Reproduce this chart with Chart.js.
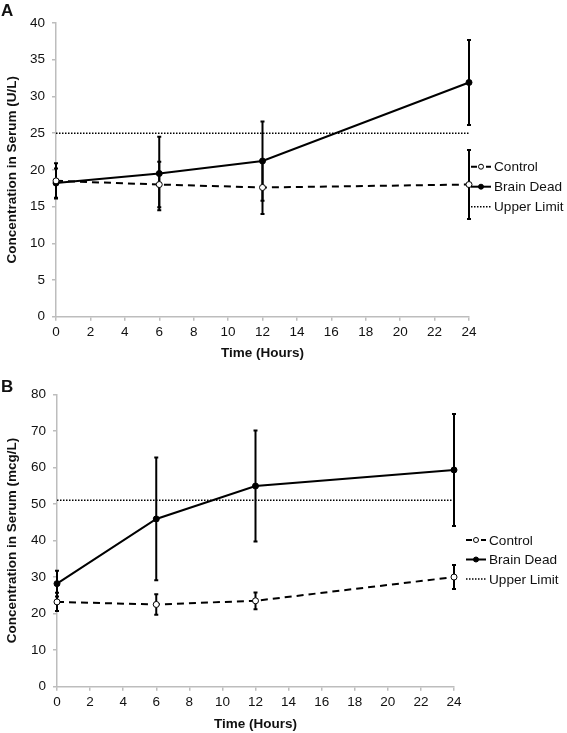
<!DOCTYPE html>
<html>
<head>
<meta charset="utf-8">
<script src="https://cdn.jsdelivr.net/npm/chart.js@4.4.0/dist/chart.umd.min.js"></script>
<style>
    body { margin: 0; background: #fff; }
    #wrap { position: relative; width: 567px; height: 733px; font-family: "Liberation Sans", Arial, sans-serif; }
    .panel { position: absolute; left: 0; width: 567px; }
    .tag { position: absolute; left: 1px; font-weight: bold; font-size: 17px; color: #111; }
</style>
</head>
<body>
<div id="wrap">
    <div class="panel" style="top:0;height:362px"><canvas id="chartA" width="567" height="362"></canvas></div>
    <div class="panel" style="top:362px;height:371px"><canvas id="chartB" width="567" height="371"></canvas></div>
    <div class="tag" style="top:1px">A</div>
    <div class="tag" style="top:377px">B</div>
</div>
<script>
// Datos
const hours = [0, 6, 12, 24];
const xTicks = [0, 2, 4, 6, 8, 10, 12, 14, 16, 18, 20, 22, 24];

// Panel A (U/L)
const aControl = [18.5, 18.0, 17.6, 18.0];
const aControlErr = [2.4, 3.1, 3.6, 4.7];
const aBrainDead = [18.2, 19.5, 21.2, 31.9];
const aBrainDeadErr = [2.0, 5.0, 5.4, 5.8];
const aUpperLimit = 25;

// Panel B (mcg/L)
const bControl = [23.2, 22.5, 23.5, 30.0];
const bControlErr = [2.5, 2.8, 2.3, 3.3];
const bBrainDead = [28.2, 45.9, 54.9, 59.3];
const bBrainDeadErr = [3.5, 16.8, 15.2, 15.3];
const bUpperLimit = 51;

const FONT = "'Liberation Sans', Arial, sans-serif";
const AXIS_GRAY = '#bdbdbd';

// Barras de error (se dibujan antes que las series para que los puntos queden encima)
const errorBars = {
    id: 'errorBars',
    beforeDatasetsDraw(chart) {
        const ctx = chart.ctx;
        const xs = chart.scales.x, ys = chart.scales.y;
        chart.data.datasets.forEach(ds => {
            if (!ds.errors) return;
            ctx.save();
            ctx.strokeStyle = '#000';
            ctx.lineWidth = 2;
            ds.data.forEach((pt, j) => {
                const err = ds.errors[j];
                const x = xs.getPixelForValue(pt.x);
                const yTop = ys.getPixelForValue(pt.y + err);
                const yBot = ys.getPixelForValue(pt.y - err);
                ctx.beginPath();
                ctx.moveTo(x, yTop); ctx.lineTo(x, yBot);
                ctx.moveTo(x - 2, yTop); ctx.lineTo(x + 2, yTop);
                ctx.moveTo(x - 2, yBot); ctx.lineTo(x + 2, yBot);
                ctx.stroke();
            });
            ctx.restore();
        });
    }
};

// Leyenda lateral al estilo del original
const sideLegend = {
    id: 'sideLegend',
    afterDraw(chart, args, opts) {
        const ctx = chart.ctx;
        chart.data.datasets.forEach((ds, i) => {
            const y = opts.y + i * opts.gap;
            const x0 = opts.x, x1 = opts.x + opts.len;
            ctx.save();
            ctx.strokeStyle = '#000';
            ctx.lineWidth = 2;
            if (ds.label === 'Control') ctx.setLineDash([6, 9]);
            else if (ds.label === 'Upper Limit') { ctx.setLineDash([1.5, 1.5]); ctx.lineWidth = 1.5; }
            ctx.beginPath();
            ctx.moveTo(x0, y); ctx.lineTo(x1, y);
            ctx.stroke();
            ctx.setLineDash([]);
            if (ds.pointRadius > 0) {
                ctx.beginPath();
                ctx.arc((x0 + x1) / 2, y, 2.5, 0, Math.PI * 2);
                ctx.fillStyle = ds.pointBackgroundColor;
                ctx.fill();
                ctx.lineWidth = 1;
                ctx.stroke();
            }
            ctx.fillStyle = '#111';
            ctx.font = opts.fontSize + 'px ' + FONT;
            ctx.textBaseline = 'middle';
            ctx.fillText(ds.label, x1 + 3, y + 1);
            ctx.restore();
        });
    }
};

function toPoints(values) {
    return values.map((v, i) => ({ x: hours[i], y: v }));
}

function buildChart(id, cfg) {
    return new Chart(document.getElementById(id), {
        type: 'line',
        data: {
            datasets: [
                {
                    label: 'Control',
                    data: toPoints(cfg.control),
                    errors: cfg.controlErr,
                    borderColor: '#000',
                    borderWidth: 2,
                    borderDash: [7, 5],
                    pointRadius: 3,
                    pointBackgroundColor: '#fff',
                    pointBorderColor: '#000',
                    pointBorderWidth: 1,
                    clip: false,
                    tension: 0
                },
                {
                    label: 'Brain Dead',
                    data: toPoints(cfg.brainDead),
                    errors: cfg.brainDeadErr,
                    borderColor: '#000',
                    borderWidth: 2,
                    pointRadius: 3,
                    pointBackgroundColor: '#000',
                    pointBorderColor: '#000',
                    pointBorderWidth: 1,
                    clip: false,
                    tension: 0
                },
                {
                    label: 'Upper Limit',
                    data: [{ x: hours[0], y: cfg.upper }, { x: hours[hours.length - 1], y: cfg.upper }],
                    borderColor: '#000',
                    borderWidth: 1.5,
                    borderDash: [1.5, 1.5],
                    pointRadius: 0,
                    clip: false
                }
            ]
        },
        options: {
            responsive: false,
            animation: false,
            layout: { padding: { top: cfg.padTop, right: cfg.padRight, left: 0, bottom: 0 } },
            scales: {
                x: {
                    type: 'linear',
                    min: 0, max: 24,
                    afterBuildTicks: s => { s.ticks = xTicks.map(v => ({ value: v })); },
                    afterFit: s => { s.height = cfg.xHeight; },
                    border: { color: AXIS_GRAY, width: 1.5 },
                    grid: { drawOnChartArea: false, color: AXIS_GRAY, tickLength: 4, lineWidth: 1.5 },
                    ticks: { color: '#111', font: { family: FONT, size: 13.5 }, padding: 3, maxRotation: 0 },
                    title: {
                        display: true, text: 'Time (Hours)', color: '#111',
                        font: { family: FONT, size: 13.5, weight: 'bold' },
                        padding: { top: 0, bottom: 1 }
                    }
                },
                y: {
                    min: 0, max: cfg.yMax,
                    afterFit: s => { s.width = cfg.yWidth; },
                    border: { color: AXIS_GRAY, width: 1.5 },
                    grid: { drawOnChartArea: false, color: AXIS_GRAY, tickLength: 4, lineWidth: 1.5 },
                    ticks: { stepSize: cfg.yStep, color: '#111', font: { family: FONT, size: 13.5 }, padding: 7 },
                    title: {
                        display: true, text: cfg.yTitle, color: '#111',
                        font: { family: FONT, size: 13.5, weight: 'bold' },
                        padding: { top: 4, bottom: 0 }
                    }
                }
            },
            plugins: {
                legend: { display: false },
                tooltip: { enabled: false },
                sideLegend: cfg.legend
            }
        },
        plugins: [errorBars, sideLegend]
    });
}

buildChart('chartA', {
    control: aControl, controlErr: aControlErr,
    brainDead: aBrainDead, brainDeadErr: aBrainDeadErr,
    upper: aUpperLimit,
    yMax: 40, yStep: 5,
    yTitle: 'Concentration in Serum (U/L)',
    padTop: 23, padRight: 98, yWidth: 56, xHeight: 45.3,
    legend: { x: 471, y: 166.7, gap: 20, len: 20, fontSize: 13.6 }
});

buildChart('chartB', {
    control: bControl, controlErr: bControlErr,
    brainDead: bBrainDead, brainDeadErr: bBrainDeadErr,
    upper: bUpperLimit,
    yMax: 80, yStep: 10,
    yTitle: 'Concentration in Serum (mcg/L)',
    padTop: 32.3, padRight: 113, yWidth: 57, xHeight: 46.3,
    legend: { x: 466, y: 178, gap: 19.5, len: 20, fontSize: 13.6 }
});
</script>
</body>
</html>
